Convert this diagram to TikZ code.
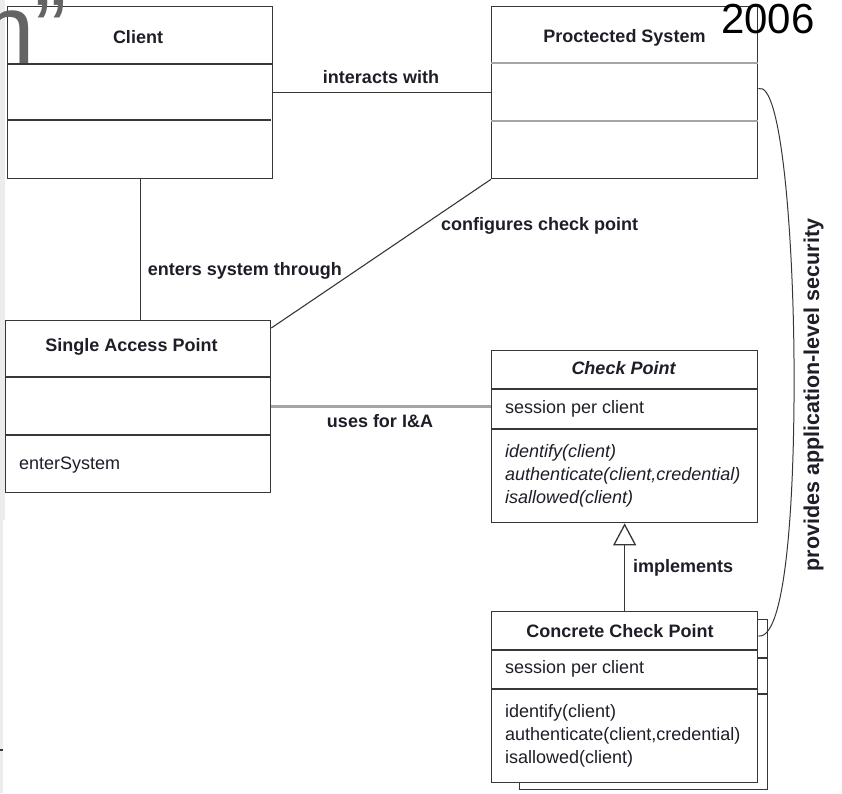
\documentclass[tikz,border=0pt]{standalone}
\usepackage{fontspec}
\setmainfont{Liberation Sans}
\usetikzlibrary{arrows.meta,calc}

\definecolor{ink}{RGB}{30,30,40}
\definecolor{edge}{RGB}{55,55,55}
\definecolor{softedge}{RGB}{165,165,165}
\definecolor{slidegray}{RGB}{100,100,100}
\definecolor{marginstrip}{RGB}{236,236,236}

\begin{document}
\begin{tikzpicture}[x=1pt,y=-1pt,
  box/.style={draw=edge, line width=1.3pt, fill=white, inner sep=0pt, anchor=north west},
  divider/.style={draw=edge, line width=1.3pt},
  softdivider/.style={draw=softedge, line width=1.8pt},
  assoc/.style={draw=edge, line width=1.3pt},
  title/.style={font=\fontsize{18}{22}\selectfont\bfseries, text=ink, anchor=base, inner sep=0pt},
  abstitle/.style={font=\fontsize{18}{22}\selectfont\bfseries\itshape, text=ink, anchor=base, inner sep=0pt},
  member/.style={font=\fontsize{18}{22}\selectfont, text=ink, anchor=base west, inner sep=0pt},
  absmember/.style={font=\fontsize{18}{22}\selectfont\itshape, text=ink, anchor=base west, inner sep=0pt},
  rolelabel/.style={font=\fontsize{18}{22}\selectfont\bfseries, text=ink, inner sep=0pt}
]
\useasboundingbox (0,0) rectangle (842,793);

% left margin strip of the slide
\fill[marginstrip] (0,0) rectangle (3,793);
\fill[marginstrip] (0,0) rectangle (5,520);

% ---------- classes ----------
\node[box, minimum width=265pt, minimum height=172pt] (client) at (7,6) {};
\draw[divider] ($(client.north west)+(0,58)$) -- ($(client.north east)+(0,58)$);
\draw[divider] ($(client.north west)+(0,114)$) -- ($(client.north east)+(-2,114)$);
\node[title] (clientname) at (138,43) {Client};

\node[box, minimum width=266pt, minimum height=172pt] (ps) at (491,6) {};
\draw[softdivider] ($(ps.north west)+(0,57)$) -- ($(ps.north east)+(0,57)$);
\draw[softdivider] ($(ps.north west)+(0,115)$) -- ($(ps.north east)+(0,115)$);
\node[title] (psname) at (624.5,42) {Proctected System};

\node[box, minimum width=265pt, minimum height=172pt] (sap) at (5,320) {};
\draw[divider] ($(sap.north west)+(0,57)$) -- ($(sap.north east)+(0,57)$);
\draw[divider] ($(sap.north west)+(0,115)$) -- ($(sap.north east)+(0,115)$);
\node[title] (sapname) at (131.5,351) {Single Access Point};
\node[member] (sapop) at (19,469) {enterSystem};

\node[box, minimum width=266pt, minimum height=172pt] (cp) at (491,350) {};
\draw[divider] ($(cp.north west)+(0,39)$) -- ($(cp.north east)+(0,39)$);
\draw[divider] ($(cp.north west)+(0,79)$) -- ($(cp.north east)+(0,79)$);
\node[abstitle] (cpname) at (623.5,374) {Check Point};
\node[member] (cpattr) at (505,413) {session per client};
\node[absmember] (cpop1) at (505,457) {identify(client)};
\node[absmember] (cpop2) at (505,480) {authenticate(client,credential)};
\node[absmember] (cpop3) at (505,503) {isallowed(client)};

% stacked instances of the concrete class
\node[box, minimum width=248pt, minimum height=170pt] (ccpback) at (519,619) {};
\draw[divider] (757,658) -- (ccpback.east |- 0,658);
\draw[divider] (757,694) -- (ccpback.east |- 0,694);

\node[box, minimum width=266pt, minimum height=171pt] (ccp) at (491,611) {};
\draw[divider] ($(ccp.north west)+(0,39)$) -- ($(ccp.north east)+(0,39)$);
\draw[divider] ($(ccp.north west)+(0,78)$) -- ($(ccp.north east)+(0,78)$);
\node[title] (ccpname) at (620,637) {Concrete Check Point};
\node[member] (ccpattr) at (505,673) {session per client};
\node[member] (ccpop1) at (505,717) {identify(client)};
\node[member] (ccpop2) at (505,740) {authenticate(client,credential)};
\node[member] (ccpop3) at (505,763) {isallowed(client)};

% ---------- relations ----------
\draw[assoc] (client.east) -- (ps.west);
\node[rolelabel, anchor=base] (lbinteract) at (381,83) {interacts with};

\draw[assoc] (client.south) -- (client.south |- sap.north);
\node[rolelabel, anchor=base east] (lbenter) at (342,275) {enters system through};

\draw[assoc, line width=1.1pt] ([yshift=-8pt]sap.north east) -- (ps.south west);
\node[rolelabel, anchor=base west] (lbconfig) at (441,230) {configures check point};

\draw[draw=softedge, line width=2.6pt] (sap.east) -- (sap.east -| cp.west);
\node[rolelabel, anchor=base] (lbuses) at (380,427) {uses for I\&A};

\draw[assoc, -{Triangle[open, length=22pt, width=23pt, fill=white]}] (ccp.north) -- (cp.south);
\node[rolelabel, anchor=base west] (lbimpl) at (633,572) {implements};

\draw[draw=edge, line width=1pt] ([yshift=4pt]ps.east)
  .. controls (781,80) and (793,230) .. (794,360)
  .. controls (795,500) and (786,640) .. ([yshift=-25pt]ccp.north east);
\node[font=\fontsize{21.5}{25}\selectfont\bfseries, text=ink, inner sep=0pt, anchor=base, rotate=90]
  (lbsecurity) at (819,395) {provides application-level security};

% ---------- slide overlays ----------
\node[font=\fontsize{98}{98}\selectfont, text=slidegray, inner sep=0pt, anchor=base west]
  (slidetitle) at (-20,63) {n”};
\node[font=\fontsize{42}{46}\selectfont, text=black, inner sep=0pt, anchor=base west]
  (slideyear) at (721,33) {2006};
\draw[edge, line width=1.5pt] (0,750) -- (3,750);
\end{tikzpicture}
\end{document}
